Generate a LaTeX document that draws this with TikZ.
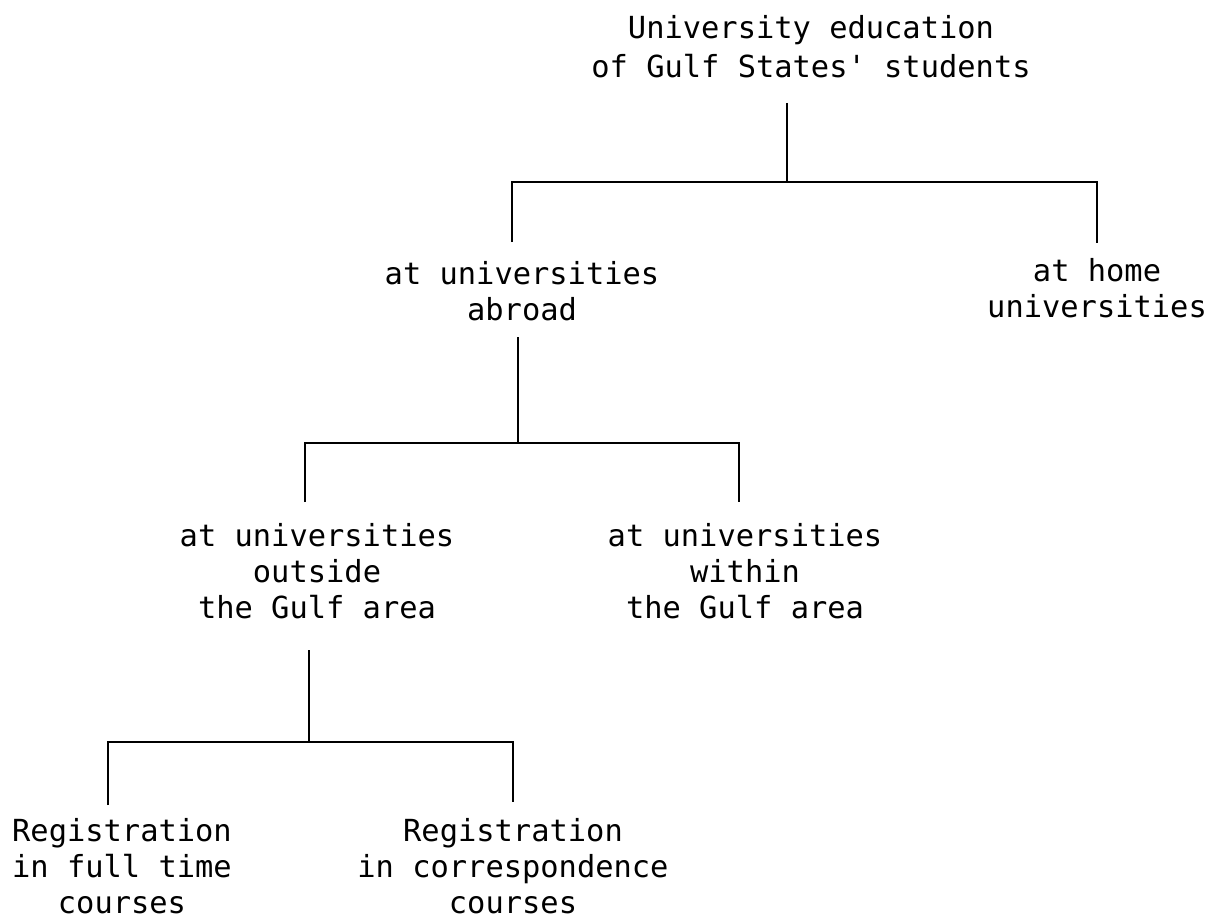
\documentclass[tikz,border=0pt]{standalone}
\usepackage{fontspec}
\newfontfamily\twfont{DejaVu Sans Mono}
\newcommand\lblfont{\twfont\fontsize{30.4}{36}\selectfont}
\newcommand\rootfont{\twfont\fontsize{30.4}{39}\selectfont}
\tikzset{
  lbl/.style={align=center, anchor=base, inner sep=0pt, font=\lblfont},
  link/.style={line width=2.2pt, line cap=butt, line join=miter}
}
\begin{document}
\begin{tikzpicture}[x=1pt,y=-1pt]
\useasboundingbox[fill=white] (0,0) rectangle (1206,920);
% nodes (anchor = baseline of the last line)
\node[lbl, font=\rootfont] (root) at (811,78) {University education\\of Gulf States' students};
\node[lbl] (abroad) at (522,320) {at universities\\abroad};
\node[lbl] (home) at (1097,317) {at home\\universities};
\node[lbl] (outside) at (317,618) {at universities\\outside\\the Gulf area};
\node[lbl] (within) at (745,618) {at universities\\within\\the Gulf area};
\node[lbl] (full) at (122,913) {Registration\\in full time\\courses};
\node[lbl] (corr) at (513,913) {Registration\\in correspondence\\courses};
% junction coordinates
\coordinate (r0) at (787,103);
\coordinate (r1) at (787,182);
\coordinate (ra) at (512,182);
\coordinate (ra1) at (512,242);
\coordinate (rh) at (1097,182);
\coordinate (rh1) at (1097,243);
\coordinate (a0) at (518,337);
\coordinate (a1) at (518,443);
\coordinate (ao) at (305,443);
\coordinate (ao1) at (305,502);
\coordinate (aw) at (739,443);
\coordinate (aw1) at (739,502);
\coordinate (o0) at (309,650);
\coordinate (o1) at (309,742);
\coordinate (of) at (108,742);
\coordinate (of1) at (108,805);
\coordinate (oc) at (513,742);
\coordinate (oc1) at (513,802);
% connectors
\draw[link] (r0) -- (r1);
\draw[link] (ra1) -- (ra) -- (rh) -- (rh1);
\draw[link] (a0) -- (a1);
\draw[link] (ao1) -- (ao) -- (aw) -- (aw1);
\draw[link] (o0) -- (o1);
\draw[link] (of1) -- (of) -- (oc) -- (oc1);
\end{tikzpicture}
\end{document}
